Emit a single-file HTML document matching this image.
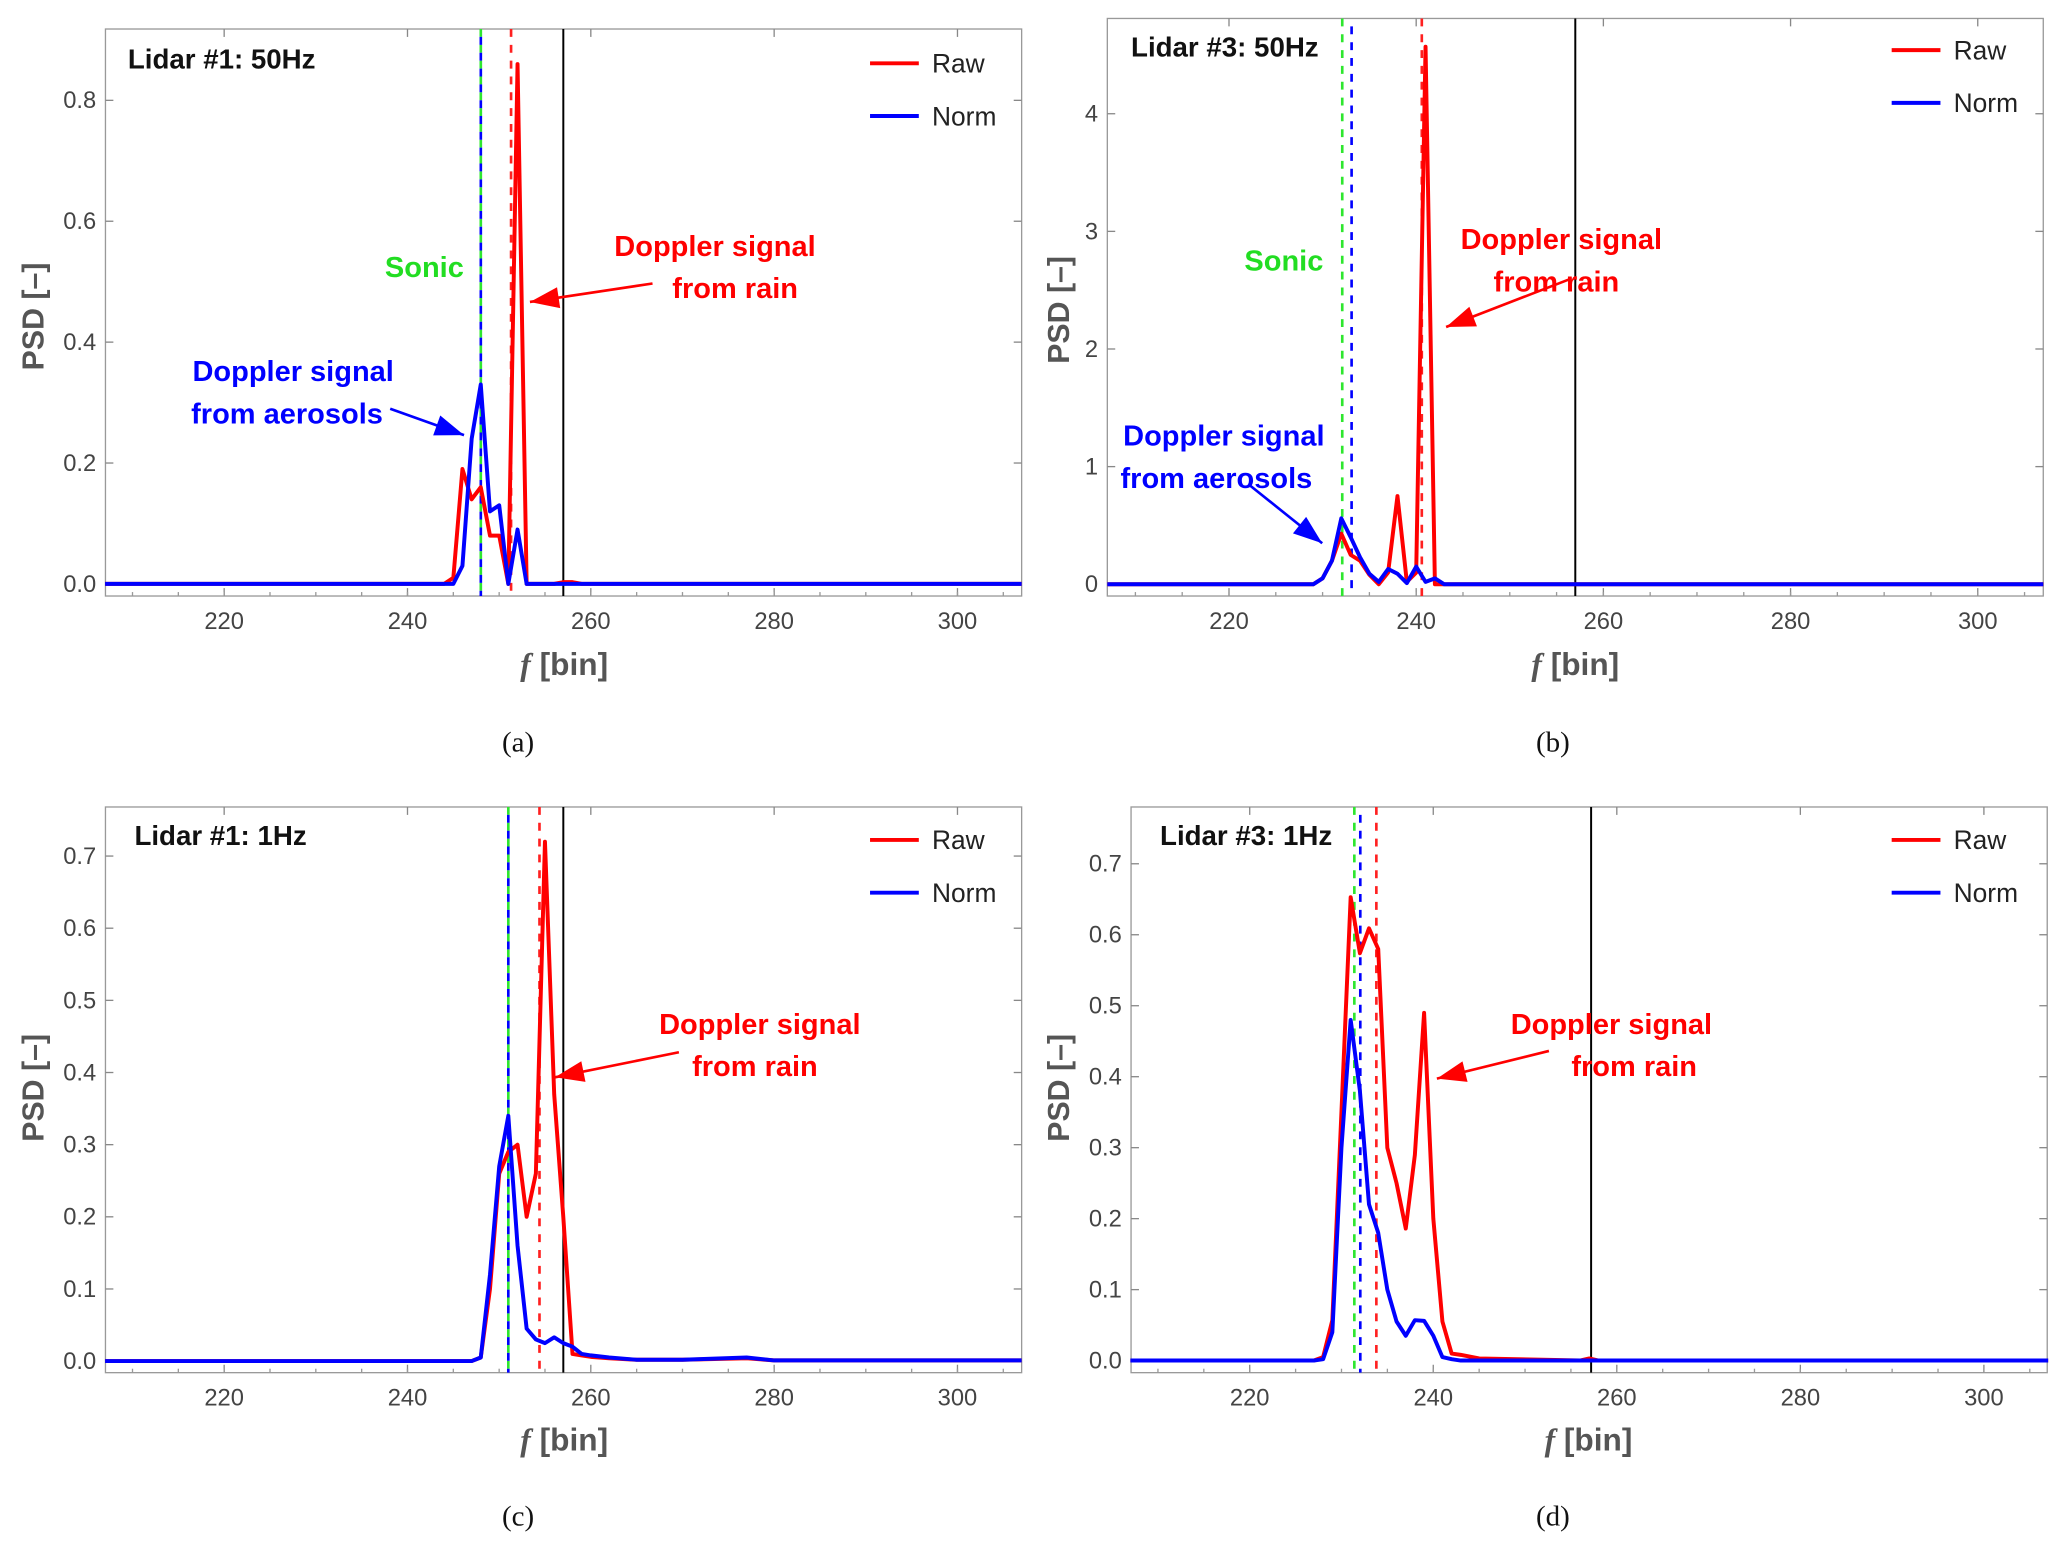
<!DOCTYPE html>
<html><head><meta charset="utf-8"><style>
html,body{margin:0;padding:0;background:#fff}
svg{display:block}
text{font-family:"Liberation Sans",sans-serif}
</style></head><body>
<svg id="fig" xmlns="http://www.w3.org/2000/svg" width="2067" height="1552" viewBox="0 0 1568 1177" preserveAspectRatio="none">
</svg>
<script>
// ---- data ----
const binsA = [207,244,245,246,247,248,249,250,251,252,253,256,257,258,259,307];
const rawA  = [0,0,0.01,0.19,0.14,0.16,0.08,0.08,0.0,0.86,0.0,0,0.003,0.003,0,0];
const normA = [0,0,0.0,0.03,0.24,0.33,0.12,0.13,0.0,0.09,0.0,0,0,0,0,0];
const binsB = [207,229,230,231,232,233,234,235,236,237,238,239,240,241,242,243,307];
const rawB  = [0,0,0.05,0.2,0.43,0.25,0.2,0.08,0.0,0.1,0.75,0.02,0.1,4.57,0.0,0,0];
const normB = [0,0,0.05,0.2,0.56,0.4,0.23,0.09,0.02,0.13,0.09,0.01,0.15,0.02,0.05,0,0];
const binsC = [207,247,248,249,250,251,252,253,254,255,256,257,258,259,260,262,265,270,277,280,307];
const rawC  = [0,0,0.005,0.1,0.26,0.29,0.3,0.2,0.26,0.72,0.37,0.2,0.01,0.008,0.006,0.004,0.002,0.002,0.004,0.001,0.001];
const normC = [0,0,0.005,0.12,0.27,0.34,0.16,0.045,0.03,0.025,0.033,0.025,0.02,0.01,0.008,0.005,0.002,0.002,0.005,0.001,0.001];
const binsD = [207,227,228,229,230,231,232,233,234,235,236,237,238,239,240,241,242,243,245,256,257,258,307];
const rawD  = [0,0,0.005,0.057,0.35,0.653,0.574,0.609,0.58,0.3,0.25,0.186,0.29,0.49,0.2,0.055,0.01,0.008,0.003,0,0.003,0,0];
const normD = [0,0,0.002,0.04,0.3,0.48,0.38,0.22,0.18,0.1,0.055,0.035,0.057,0.056,0.035,0.005,0.002,0,0,0,0,0,0];
const xTicks = [220,240,260,280,300];
const yTicksA = [0,0.2,0.4,0.6,0.8];
const yTicksB = [0,1,2,3,4];
const yTicksC = [0,0.1,0.2,0.3,0.4,0.5,0.6,0.7];
const yTicksD = [0,0.1,0.2,0.3,0.4,0.5,0.6,0.7];
const vlinesA = [248,248,251.3,257];
const vlinesB = [232.1,233.1,240.6,257];
const vlinesC = [251,251,254.4,257];
const vlinesD = [231.4,232.05,233.8,257.2];

const NS="http://www.w3.org/2000/svg";
const svg=document.getElementById('fig');
function mk(tag,attrs,parent){const e=document.createElementNS(NS,tag);for(const k in attrs)e.setAttribute(k,attrs[k]);(parent||svg).appendChild(e);return e;}

const panels=[
 {id:'a',L:80,R:775,T:22,B:452,xd:[207.05,307],yd:[-0.02,0.918],bins:binsA,raw:rawA,norm:normA,yt:yTicksA,vl:vlinesA,fmt:v=>v.toFixed(1),
  title:'Lidar #1: 50Hz',tx:97,ty:52,ylx:25,yly:240,xlx:428,xly:512,cap:'(a)',cx:393,cy:570,legY:48,legX:660,
  red:[[466,186,'Doppler signal'],[510,218,'from rain']],rarrow:[495,215,402,229],
  blue:[[146,281,'Doppler signal'],[145,313,'from aerosols']],barrow:[296,310,352,330],sonic:[292,202]},
 {id:'b',L:840,R:1550,T:14,B:452,xd:[207,307],yd:[-0.1,4.81],bins:binsB,raw:rawB,norm:normB,yt:yTicksB,vl:vlinesB,fmt:v=>String(v),
  title:'Lidar #3: 50Hz',tx:858,ty:43,ylx:803,yly:235,xlx:1195,xly:512,cap:'(b)',cx:1178,cy:570,legY:38,legX:1435,
  red:[[1108,181,'Doppler signal'],[1133,213,'from rain']],rarrow:[1190,212,1097,248],
  blue:[[852,330,'Doppler signal'],[850,362,'from aerosols']],barrow:[948,368,1003,412],sonic:[944,197]},
 {id:'c',L:80,R:775,T:612,B:1041,xd:[207.05,307],yd:[-0.016,0.768],bins:binsC,raw:rawC,norm:normC,yt:yTicksC,vl:vlinesC,fmt:v=>v.toFixed(1),
  title:'Lidar #1: 1Hz',tx:102,ty:641,ylx:25,yly:825,xlx:428,xly:1100,cap:'(c)',cx:393,cy:1157,legY:637,legX:660,
  red:[[500,776,'Doppler signal'],[525,808,'from rain']],rarrow:[515,798,421,817]},
 {id:'d',L:858,R:1553,T:612,B:1041,xd:[207.07,306.9],yd:[-0.017,0.78],bins:binsD,raw:rawD,norm:normD,yt:yTicksD,vl:vlinesD,fmt:v=>v.toFixed(1),
  title:'Lidar #3: 1Hz',tx:880,ty:641,ylx:803,yly:825,xlx:1205,xly:1100,cap:'(d)',cx:1178,cy:1157,legY:637,legX:1435,
  red:[[1146,776,'Doppler signal'],[1192,808,'from rain']],rarrow:[1175,797,1090,818]}
];

const vcols=['#2ee62e','#0000ff','#ff2020','#000'];
panels.forEach(p=>{
  const g=mk('g',{});
  
  
  const sx=v=>p.L+(v-p.xd[0])/(p.xd[1]-p.xd[0])*(p.R-p.L);
  const sy=v=>p.B-(v-p.yd[0])/(p.yd[1]-p.yd[0])*(p.B-p.T);
  const fr=mk('rect',{x:p.L,y:p.T,width:p.R-p.L,height:p.B-p.T,fill:'none',stroke:'#999','stroke-width':1},g);
  
  
  xTicks.forEach(t=>{
    const x=sx(t);
    mk('line',{x1:x,x2:x,y1:p.B,y2:p.B-6,stroke:'#888'},g);
    mk('line',{x1:x,x2:x,y1:p.T,y2:p.T+6,stroke:'#888'},g);
    const tt=mk('text',{x:x,y:p.B+25,'font-size':18,fill:'#444','text-anchor':'middle'},g);
    tt.textContent=t;
    
    
  });
  for(let t=210;t<=305;t+=5){const x=sx(t);mk('line',{x1:x,x2:x,y1:p.B,y2:p.B-3,stroke:'#999'},g);}
  p.yt.forEach(t=>{
    const y=sy(t);
    mk('line',{x1:p.L,x2:p.L+6,y1:y,y2:y,stroke:'#888'},g);
    mk('line',{x1:p.R,x2:p.R-6,y1:y,y2:y,stroke:'#888'},g);
    const tt=mk('text',{x:p.L-7,y:y+6,'font-size':18,fill:'#444','text-anchor':'end'},g);
    tt.textContent=p.fmt(t);
    
    
  });
  p.vl.forEach((v,i)=>{
    const x=sx(v);
    const l=mk('line',{x1:x,x2:x,y1:p.T,y2:p.B,stroke:vcols[i],'stroke-width':i==3?1.5:2,'stroke-dasharray':i==3?'':'6,6','stroke-dashoffset':i==1?6:0},g);
    
    
  });
  [['raw','#ff0000'],['norm','#0000ff']].forEach(([k,c])=>{
    const pts=p.bins.map((b,i)=>sx(b).toFixed(1)+','+sy(p[k][i]).toFixed(1)).join(' ');
    const pl=mk('polyline',{points:pts,fill:'none',stroke:c,'stroke-width':3,'stroke-linejoin':'round'},g);
    
    
  });
  const ti=mk('text',{x:p.tx,y:p.ty,'font-size':21,'font-weight':'bold',fill:'#111'},g);
  ti.textContent=p.title;
  
  
  [['Raw','#ff0000',0],['Norm','#0000ff',40]].forEach(([n,c,o])=>{
    mk('line',{x1:p.legX,x2:p.legX+37,y1:p.legY+o,y2:p.legY+o,stroke:c,'stroke-width':3},g);
    const lt=mk('text',{x:p.legX+47,y:p.legY+o+7,'font-size':20,fill:'#222'},g);
    lt.textContent=n;
    
    
  });
  const yl=mk('text',{x:p.ylx,y:p.yly,'font-size':23,'font-weight':'bold',fill:'#555','text-anchor':'middle',transform:`rotate(-90 ${p.ylx} ${p.yly})`,dy:8},g);
  yl.textContent='PSD [–]';
  
  
  const xl=mk('text',{x:p.xlx,y:p.xly,'font-size':24,'font-weight':'bold',fill:'#555','text-anchor':'middle'},g);
  xl.innerHTML='<tspan font-style="italic" font-family="Liberation Serif">f</tspan> [bin]';
  
  
  const cp=mk('text',{x:p.cx,y:p.cy,'font-size':22,fill:'#111','text-anchor':'middle'},g);
  cp.textContent=p.cap;
  cp.style.fontFamily='"Liberation Serif",serif';
  
  
  p.red.forEach(([x,y,s])=>{
    const t=mk('text',{x:x,y:y+8,'font-size':22,'font-weight':'bold',fill:'#ff0000'},g);
    t.textContent=s;
    
    
  });
  const ra=p.rarrow;
  const a1=mk('line',{x1:ra[0],y1:ra[1],x2:ra[2],y2:ra[3],stroke:'#f00','stroke-width':2},g);
  
  
  drawHead(g,ra,'#f00');
  if(p.blue){
    p.blue.forEach(([x,y,s])=>{
      const t=mk('text',{x:x,y:y+8,'font-size':22,'font-weight':'bold',fill:'#0000ff'},g);
      t.textContent=s;
      
      
    });
    const ba=p.barrow;
    const a2=mk('line',{x1:ba[0],y1:ba[1],x2:ba[2],y2:ba[3],stroke:'#00f','stroke-width':2},g);
    
    
    drawHead(g,ba,'#00f');
    const so=mk('text',{x:p.sonic[0],y:p.sonic[1]+8,'font-size':22,'font-weight':'bold',fill:'#22dd22'},g);
    so.textContent='Sonic';
    
    
  }
});
function drawHead(g,a,c){
  const dx=a[2]-a[0],dy=a[3]-a[1],L=Math.hypot(dx,dy),ux=dx/L,uy=dy/L;
  const bx=a[2]-ux*22,by=a[3]-uy*22;
  const pts=[[a[2],a[3]],[bx-uy*8,by+ux*8],[bx+uy*8,by-ux*8]].map(q=>q.join(',')).join(' ');
  const h=mk('polygon',{points:pts,fill:c},g);
  
  
}
</script>
</body></html>
